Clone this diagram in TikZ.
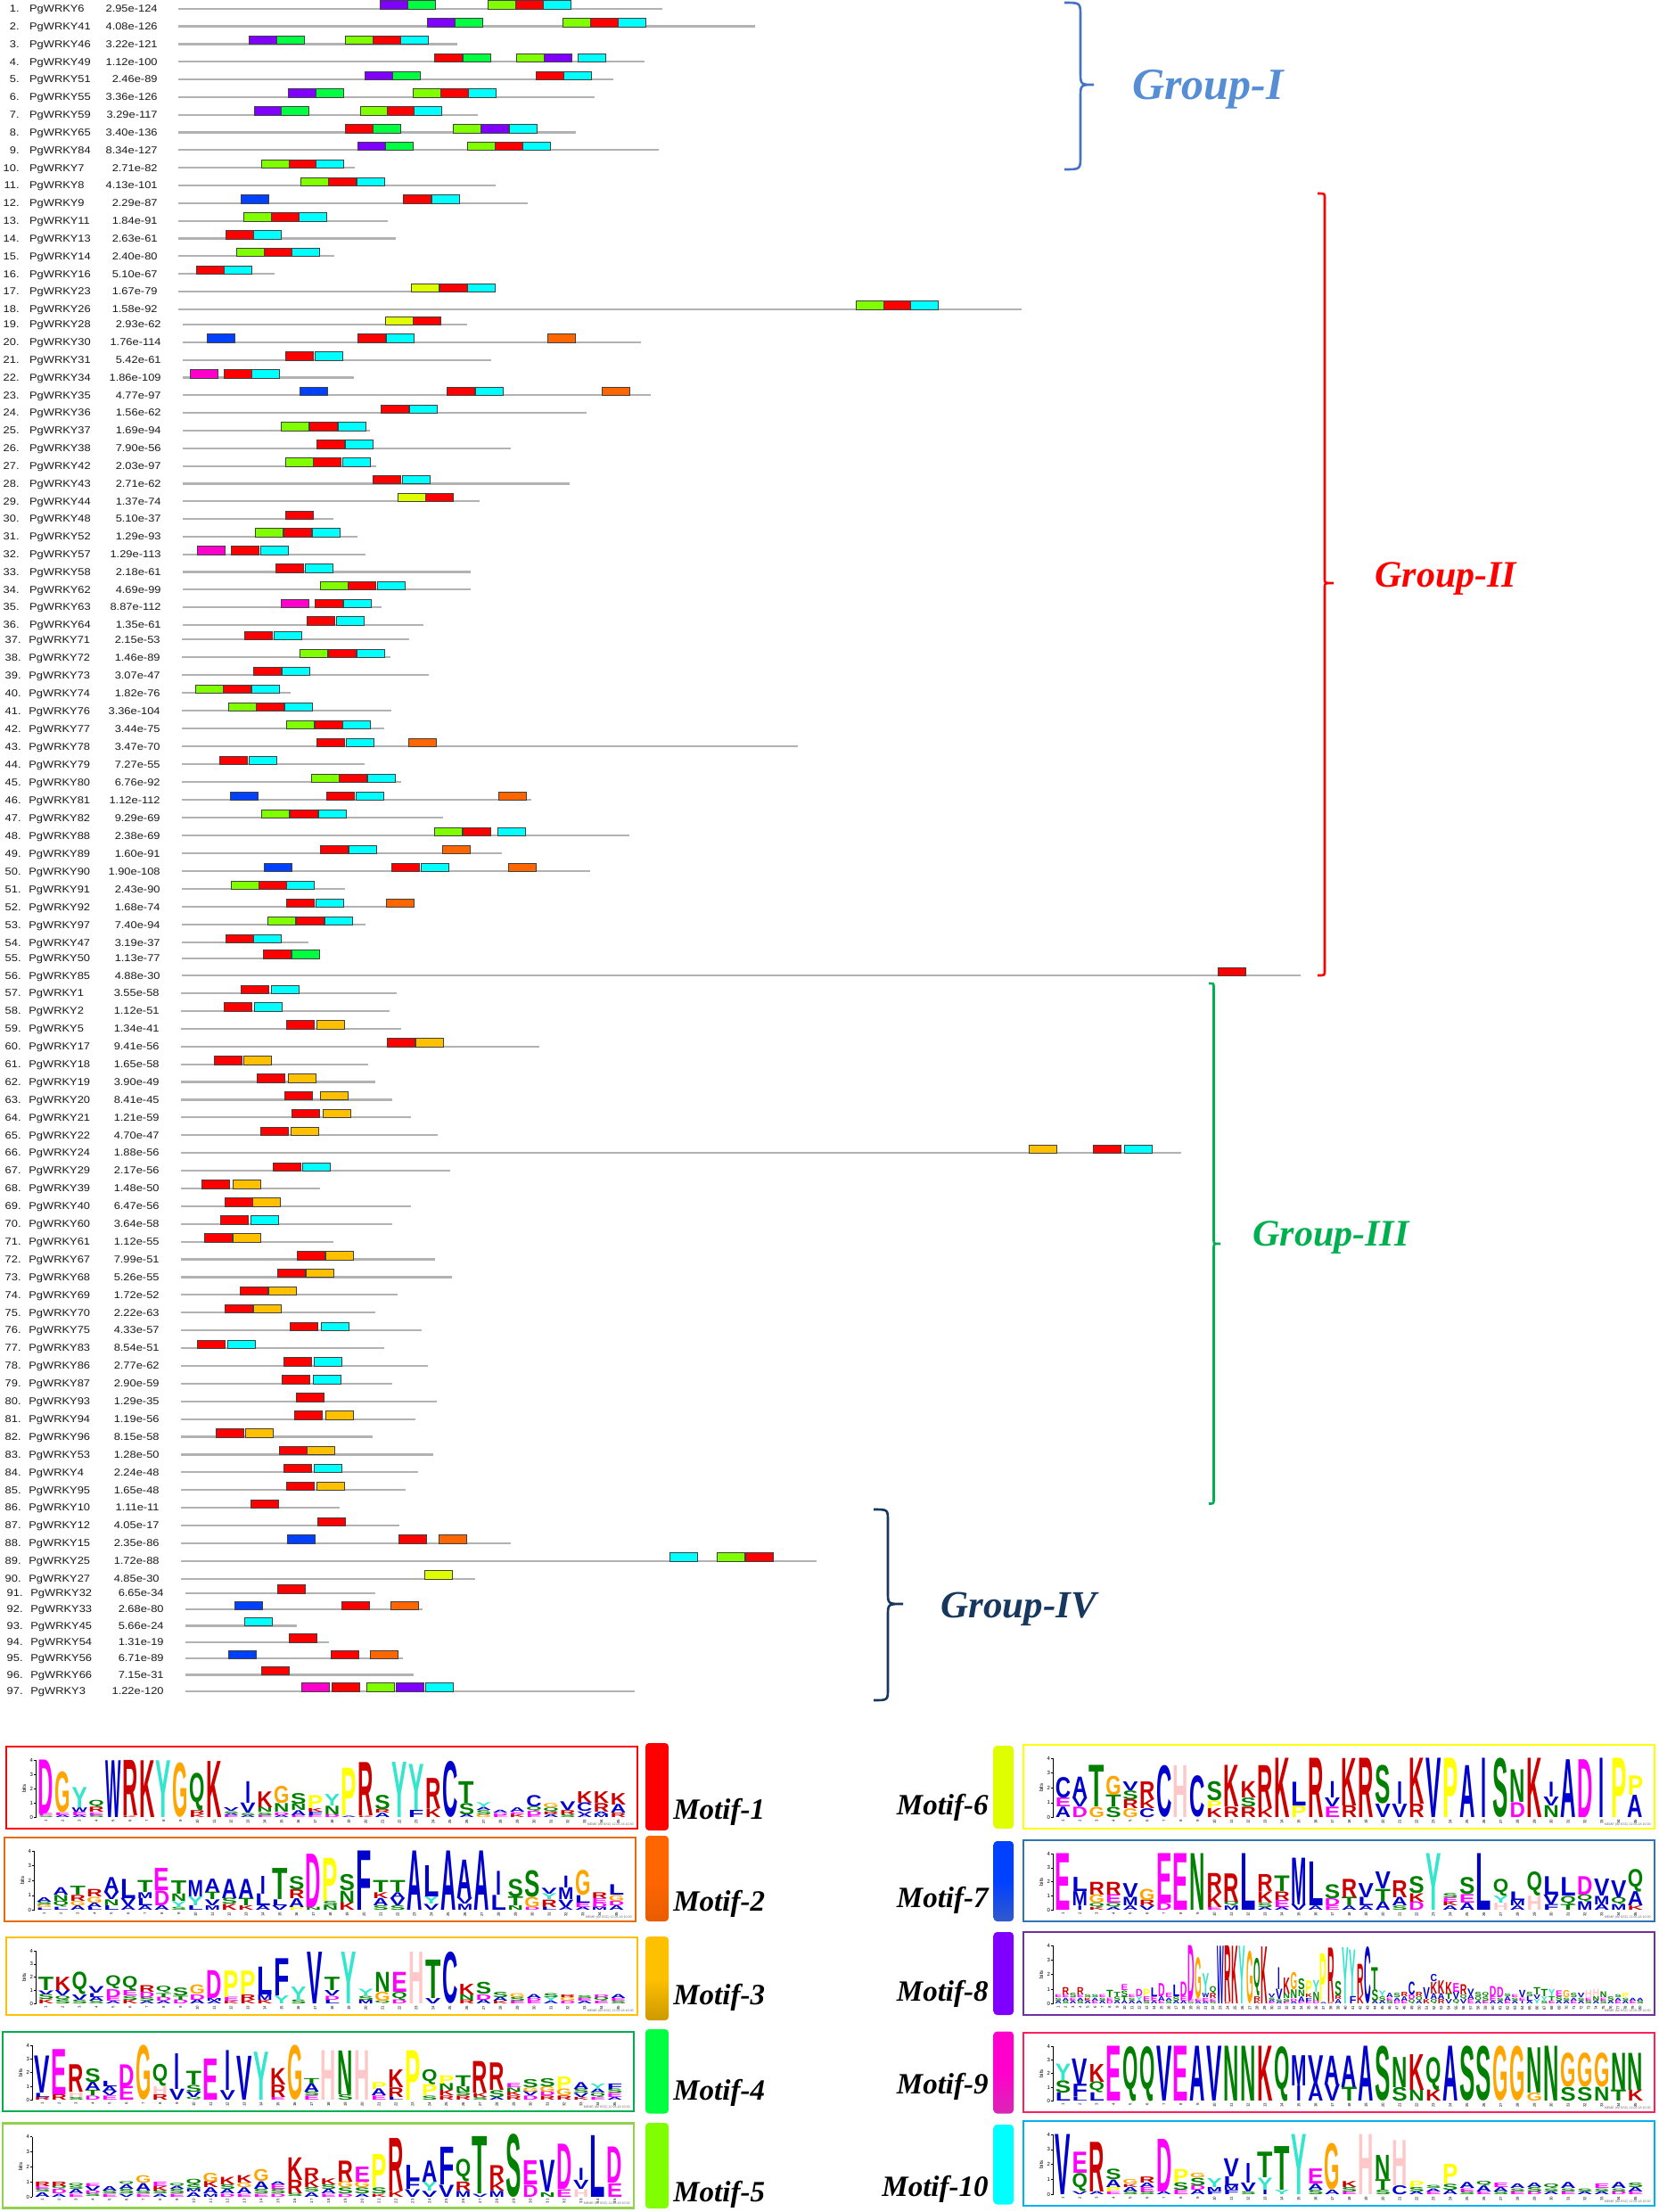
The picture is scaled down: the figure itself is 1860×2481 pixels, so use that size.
\documentclass[tikz,border=0pt]{standalone}
\usepackage{graphicx}
\usepackage{fontspec}
\setmainfont{Liberation Sans}
\newfontfamily\tnr{Liberation Serif}
\newfontfamily\lgf{Liberation Sans}
\newlength\upx \setlength\upx{0.5pt}
% chart motif colours
\definecolor{m1}{HTML}{FF0000}\definecolor{m2}{HTML}{FF6600}\definecolor{m3}{HTML}{FFC000}
\definecolor{m4}{HTML}{00FF40}\definecolor{m5}{HTML}{80FF00}\definecolor{m6}{HTML}{DFFF00}
\definecolor{m7}{HTML}{0040FF}\definecolor{m8}{HTML}{8000FF}\definecolor{m9}{HTML}{FF00CC}
\definecolor{m10}{HTML}{00FFFF}
% frame colours
\definecolor{f1}{HTML}{FF0000}\definecolor{f2}{HTML}{E46C0A}\definecolor{f3}{HTML}{FFC000}
\definecolor{f4}{HTML}{00B050}\definecolor{f5}{HTML}{92D050}\definecolor{f6}{HTML}{FFFF00}
\definecolor{f7}{HTML}{2E75B6}\definecolor{f8}{HTML}{7030A0}\definecolor{f9}{HTML}{FF1F5A}
\definecolor{f10}{HTML}{00B0F0}
% group colours
\definecolor{g1}{HTML}{4472C4}\definecolor{g1t}{HTML}{558ED5}
\definecolor{g2}{HTML}{FF0000}\definecolor{g3}{HTML}{00B050}\definecolor{g4}{HTML}{17375E}
% logo letter colours
\definecolor{lblue}{HTML}{0000CC}\definecolor{lgreen}{HTML}{008000}\definecolor{lmag}{HTML}{FF00FF}
\definecolor{lred}{HTML}{CC0000}\definecolor{lorange}{HTML}{FFA500}\definecolor{lyellow}{HTML}{FFFF00}
\definecolor{lturq}{HTML}{33E6CC}\definecolor{lpink}{HTML}{FFC8C8}
\colorlet{lcA}{lblue}\colorlet{lcC}{lblue}\colorlet{lcF}{lblue}\colorlet{lcI}{lblue}
\colorlet{lcL}{lblue}\colorlet{lcM}{lblue}\colorlet{lcV}{lblue}\colorlet{lcW}{lblue}
\colorlet{lcN}{lgreen}\colorlet{lcQ}{lgreen}\colorlet{lcS}{lgreen}\colorlet{lcT}{lgreen}
\colorlet{lcD}{lmag}\colorlet{lcE}{lmag}\colorlet{lcK}{lred}\colorlet{lcR}{lred}
\colorlet{lcG}{lorange}\colorlet{lcP}{lyellow}\colorlet{lcY}{lturq}\colorlet{lcH}{lpink}
\def\lgwA{0.92}\def\lgwC{0.92}\def\lgwD{0.92}\def\lgwE{0.92}\def\lgwF{0.92}\def\lgwG{0.92}
\def\lgwH{0.92}\def\lgwI{0.32}\def\lgwK{0.92}\def\lgwL{0.92}\def\lgwM{0.92}\def\lgwN{0.92}
\def\lgwP{0.92}\def\lgwQ{0.92}\def\lgwR{0.92}\def\lgwS{0.92}\def\lgwT{0.92}\def\lgwV{0.92}
\def\lgwW{0.92}\def\lgwY{0.92}
\newcommand\tinyf{\fontsize{3pt}{3.5pt}\selectfont}
\newcommand\tinyxf{\fontsize{2.2pt}{2.5pt}\selectfont}
\newcommand\footf{\fontsize{1.8pt}{2pt}\selectfont}
\tikzset{
  protline/.style={line width=1.1pt, draw=black!30},
  motbox/.style={draw=black!75, line width=0.45pt},
  rowtxt/.style={inner sep=0pt, font=\fontsize{5.6pt}{6.5pt}\selectfont, text=black!90},
  grplab/.style={inner sep=0pt, font=\tnr\bfseries\itshape\fontsize{21pt}{25pt}\selectfont},
  motlab/.style={inner sep=0pt, font=\tnr\bfseries\itshape\fontsize{16.5pt}{20pt}\selectfont},
  brk/.style={line width=1.3pt}
}
\newcommand\wrow[6]{%
  \draw[protline] (\lx,#2) -- (#3,#2);
  \node[rowtxt, anchor=base east] (num#1) at (\numx,#2+3.8) {\scalebox{1.15}[1]{#1.}};
  \node[rowtxt, anchor=base west] (nm#1) at (\namex,#2+3.8) {\scalebox{1.15}[1]{#4}};
  \node[rowtxt, anchor=base east] (ev#1) at (\evx,#2+3.8) {\scalebox{1.15}[1]{#5}};
  \foreach \qx/\qc in {#6} {\filldraw[motbox, fill=\qc] (\qx,#2-9) rectangle ++(31,9.5);}
}
\newcommand\logo[7]{%
  \pgfmathsetmacro\lgcolw{661/#5}
  \pgfmathsetmacro\lgbase{#3+#4-12.5}
  \pgfmathsetmacro\lgbit{(#4-27.5)/4}
  \pgfmathsetmacro\lgax{#2+33}
  \draw[line width=1.3pt, #6] (#2,#3) rectangle ++(708,#4);
  \draw[line width=0.3pt] (\lgax,\lgbase) -- (\lgax,\lgbase-4*\lgbit);
  \foreach \t in {0,...,4} {\draw[line width=0.3pt] (\lgax,\lgbase-\t*\lgbit) -- ++(-2,0) node[left, inner sep=0.4pt, font=\tinyf] (tk#1-\t) {\t};}
  \node[rotate=90, font=\tinyf, inner sep=0pt] (bits#1) at (#2+20,\lgbase-2*\lgbit) {bits};
  \foreach \ci in {1,...,#5} {\node[rotate=90, anchor=east, inner sep=0.3pt, font=\tinyxf] (xt#1-\ci) at ({#2+35+(\ci-0.5)*\lgcolw},\lgbase+1.5) {\ci};}
  \node[anchor=south east, font=\footf, text=black!60, inner sep=0.5pt] (ft#1) at (#2+705,#3+#4-1.5) {MEME (no SSC) 12.05.18 10:30};
  \foreach \col [count=\ci] in {#7} {%
    \pgfmathsetmacro\cx{#2+35+(\ci-0.5)*\lgcolw}
    \xdef\ycur{\lgbase}
    \foreach \lgL/\lgH [count=\li] in \col {%
      \pgfmathsetmacro\hpx{\lgH*\lgbit}
      \pgfmathsetmacro\lgww{\lgcolw*\csname lgw\lgL\endcsname}
      \node[anchor=south, inner sep=0pt, outer sep=0pt, text=lc\lgL] (lg#1-\ci-\li) at (\cx,\ycur) {\resizebox*{\lgww\upx}{\hpx\upx}{\lgf\bfseries\lgL}};
      \pgfmathsetmacro\ynew{\ycur-\hpx}
      \xdef\ycur{\ynew}
    }
  }
}
\newcommand\mbar[7]{\shade[top color=#6, bottom color=#7, middle color=#6, rounded corners=2pt] (#2,#3) rectangle ++(#4,#5);}
\begin{document}
\begin{tikzpicture}[x=0.5pt,y=-0.5pt]
\useasboundingbox (0,0) rectangle (1860,2481);
\fill[white] (0,0) rectangle (1860,2481);
% ---------------- rows 1-18
\def\numx{22}\def\namex{32.7}\def\evx{177}\def\lx{200}
\wrow{1}{9.7}{743}{PgWRKY6}{2.95e-124}{426/m8,457/m4,547/m5,578/m1,609/m10}
\wrow{2}{29.5}{847}{PgWRKY41}{4.08e-126}{479/m8,510/m4,631/m5,662/m1,693/m10}
\wrow{3}{49.4}{513}{PgWRKY46}{3.22e-121}{279/m8,310/m4,387/m5,418/m1,449/m10}
\wrow{4}{69.2}{723}{PgWRKY49}{1.12e-100}{487/m1,519/m4,579/m5,610/m8,648/m10}
\wrow{5}{89.0}{688}{PgWRKY51}{2.46e-89}{409/m8,440/m4,601/m1,632/m10}
\wrow{6}{108.9}{667}{PgWRKY55}{3.36e-126}{323/m8,354/m4,463/m5,494/m1,525/m10}
\wrow{7}{128.7}{536}{PgWRKY59}{3.29e-117}{285/m8,315/m4,404/m5,434/m1,464/m10}
\wrow{8}{148.5}{646}{PgWRKY65}{3.40e-136}{387/m1,418/m4,508/m5,539/m8,571/m10}
\wrow{9}{168.3}{739}{PgWRKY84}{8.34e-127}{401/m8,432/m4,524/m5,555/m1,586/m10}
\wrow{10}{188.2}{398}{PgWRKY7}{2.71e-82}{293/m5,324/m1,354/m10}
\wrow{11}{208.0}{556}{PgWRKY8}{4.13e-101}{337/m5,368/m1,400/m10}
\wrow{12}{227.8}{592}{PgWRKY9}{2.29e-87}{270/m7,452/m1,484/m10}
\wrow{13}{247.7}{435}{PgWRKY11}{1.84e-91}{273/m5,304/m1,335/m10}
\wrow{14}{267.5}{444}{PgWRKY13}{2.63e-61}{253/m1,284/m10}
\wrow{15}{287.3}{375}{PgWRKY14}{2.40e-80}{265/m5,296/m1,327/m10}
\wrow{16}{307.2}{308}{PgWRKY16}{5.10e-67}{220/m1,251/m10}
\wrow{17}{327.0}{556}{PgWRKY23}{1.67e-79}{461/m6,493/m1,524/m10}
\wrow{18}{346.7}{1146}{PgWRKY26}{1.58e-92}{960/m5,991/m1,1021/m10}
% ---------------- rows 19-36
\def\numx{22}\def\namex{32.7}\def\evx{181}\def\lx{205}
\wrow{19}{364.0}{524}{PgWRKY28}{2.93e-62}{432/m6,463/m1}
\wrow{20}{383.8}{719}{PgWRKY30}{1.76e-114}{232/m7,401/m1,433/m10,614/m2}
\wrow{21}{403.6}{551}{PgWRKY31}{5.42e-61}{320/m1,353/m10}
\wrow{22}{423.5}{397}{PgWRKY34}{1.86e-109}{213/m9,251/m1,282/m10}
\wrow{23}{443.3}{730}{PgWRKY35}{4.77e-97}{336/m7,501/m1,533/m10,675/m2}
\wrow{24}{463.1}{658}{PgWRKY36}{1.56e-62}{427/m1,459/m10}
\wrow{25}{482.9}{415}{PgWRKY37}{1.69e-94}{315/m5,347/m1,379/m10}
\wrow{26}{502.7}{573}{PgWRKY38}{7.90e-56}{355/m1,387/m10}
\wrow{27}{522.6}{422}{PgWRKY42}{2.03e-97}{320/m5,351/m1,384/m10}
\wrow{28}{542.4}{639}{PgWRKY43}{2.71e-62}{418/m1,451/m10}
\wrow{29}{562.2}{538}{PgWRKY44}{1.37e-74}{446/m6,477/m1}
\wrow{30}{582.0}{374}{PgWRKY48}{5.10e-37}{320/m1}
\wrow{31}{601.8}{401}{PgWRKY52}{1.29e-93}{286/m5,318/m1,350/m10}
\wrow{32}{621.7}{410}{PgWRKY57}{1.29e-113}{221/m9,259/m1,292/m10}
\wrow{33}{641.5}{528}{PgWRKY58}{2.18e-61}{309/m1,342/m10}
\wrow{34}{661.3}{528}{PgWRKY62}{4.69e-99}{359/m5,390/m1,423/m10}
\wrow{35}{681.1}{428}{PgWRKY63}{8.87e-112}{315/m9,353/m1,385/m10}
\wrow{36}{700.9}{475}{PgWRKY64}{1.35e-61}{344/m1,377/m10}
% ---------------- rows 37-56
\def\numx{24}\def\namex{32}\def\evx{180}\def\lx{203.5}
\wrow{37}{717.3}{459}{PgWRKY71}{2.15e-53}{274/m1,307/m10}
\wrow{38}{737.3}{438}{PgWRKY72}{1.46e-89}{336/m5,368/m1,400/m10}
\wrow{39}{757.3}{481}{PgWRKY73}{3.07e-47}{284/m1,316/m10}
\wrow{40}{777.3}{326}{PgWRKY74}{1.82e-76}{219/m5,250/m1,282/m10}
\wrow{41}{797.3}{439}{PgWRKY76}{3.36e-104}{256/m5,287/m1,319/m10}
\wrow{42}{817.3}{431}{PgWRKY77}{3.44e-75}{321/m5,353/m1,384/m10}
\wrow{43}{837.3}{895}{PgWRKY78}{3.47e-70}{355/m1,388/m10,458/m2}
\wrow{44}{857.3}{409}{PgWRKY79}{7.27e-55}{246/m1,279/m10}
\wrow{45}{877.3}{450}{PgWRKY80}{6.76e-92}{349/m5,380/m1,412/m10}
\wrow{46}{897.3}{596}{PgWRKY81}{1.12e-112}{258/m7,366/m1,399/m10,559/m2}
\wrow{47}{917.3}{497}{PgWRKY82}{9.29e-69}{293/m5,325/m1,357/m10}
\wrow{48}{937.3}{706}{PgWRKY88}{2.38e-69}{487/m5,519/m1,558/m10}
\wrow{49}{957.3}{563}{PgWRKY89}{1.60e-91}{359/m1,391/m10,496/m2}
\wrow{50}{977.3}{662}{PgWRKY90}{1.90e-108}{296/m7,439/m1,472/m10,570/m2}
\wrow{51}{997.3}{387}{PgWRKY91}{2.43e-90}{259/m5,290/m1,321/m10}
\wrow{52}{1017.3}{464}{PgWRKY92}{1.68e-74}{321/m1,354/m10,433/m2}
\wrow{53}{1037.3}{410}{PgWRKY97}{7.40e-94}{300/m5,332/m1,364/m10}
\wrow{54}{1057.3}{346}{PgWRKY47}{3.19e-37}{253/m1,284/m10}
\wrow{55}{1074.7}{358}{PgWRKY50}{1.13e-77}{295/m1,327/m4}
\wrow{56}{1094.3}{1459}{PgWRKY85}{4.88e-30}{1366/m1}
% ---------------- rows 57-90
\def\numx{24}\def\namex{32}\def\evx{179}\def\lx{202.5}
\wrow{57}{1114.0}{445}{PgWRKY1}{3.55e-58}{270/m1,304/m10}
\wrow{58}{1133.9}{437}{PgWRKY2}{1.12e-51}{251/m1,285/m10}
\wrow{59}{1153.8}{450}{PgWRKY5}{1.34e-41}{321/m1,355/m3}
\wrow{60}{1173.7}{605}{PgWRKY17}{9.41e-56}{434/m1,466/m3}
\wrow{61}{1193.6}{413}{PgWRKY18}{1.65e-58}{240/m1,273/m3}
\wrow{62}{1213.5}{421}{PgWRKY19}{3.90e-49}{288/m1,323/m3}
\wrow{63}{1233.4}{440}{PgWRKY20}{8.41e-45}{319/m1,359/m3}
\wrow{64}{1253.3}{461}{PgWRKY21}{1.21e-59}{327/m1,362/m3}
\wrow{65}{1273.2}{491}{PgWRKY22}{4.70e-47}{292/m1,326/m3}
\wrow{66}{1293.1}{1325}{PgWRKY24}{1.88e-56}{1154/m3,1226/m1,1261/m10}
\wrow{67}{1313.0}{505}{PgWRKY29}{2.17e-56}{306/m1,339/m10}
\wrow{68}{1332.9}{359}{PgWRKY39}{1.48e-50}{226/m1,261/m3}
\wrow{69}{1352.8}{461}{PgWRKY40}{6.47e-56}{252/m1,283/m3}
\wrow{70}{1372.7}{440}{PgWRKY60}{3.64e-58}{247/m1,281/m10}
\wrow{71}{1392.6}{374}{PgWRKY61}{1.12e-55}{229/m1,261/m3}
\wrow{72}{1412.5}{488}{PgWRKY67}{7.99e-51}{333/m1,365/m3}
\wrow{73}{1432.4}{507}{PgWRKY68}{5.26e-55}{311/m1,343/m3}
\wrow{74}{1452.3}{446}{PgWRKY69}{1.72e-52}{269/m1,301/m3}
\wrow{75}{1472.2}{421}{PgWRKY70}{2.22e-63}{252/m1,284/m3}
\wrow{76}{1492.1}{473}{PgWRKY75}{4.33e-57}{325/m1,360/m10}
\wrow{77}{1512.0}{431}{PgWRKY83}{8.54e-51}{221/m1,255/m10}
\wrow{78}{1531.9}{480}{PgWRKY86}{2.77e-62}{318/m1,352/m10}
\wrow{79}{1551.8}{440}{PgWRKY87}{2.90e-59}{316/m1,351/m10}
\wrow{80}{1571.7}{490}{PgWRKY93}{1.29e-35}{332/m1}
\wrow{81}{1591.6}{466}{PgWRKY94}{1.19e-56}{330/m1,365/m3}
\wrow{82}{1611.5}{418}{PgWRKY96}{8.15e-58}{242/m1,275/m3}
\wrow{83}{1631.4}{486}{PgWRKY53}{1.28e-50}{313/m1,344/m3}
\wrow{84}{1651.3}{469}{PgWRKY4}{2.24e-48}{318/m1,352/m10}
\wrow{85}{1671.2}{455}{PgWRKY95}{1.65e-48}{321/m1,355/m3}
\wrow{86}{1691.1}{381}{PgWRKY10}{1.11e-11}{281/m1}
\wrow{87}{1711.0}{448}{PgWRKY12}{4.05e-17}{356/m1}
\wrow{88}{1730.9}{573}{PgWRKY15}{2.35e-86}{322/m7,447/m1,492/m2}
\wrow{89}{1750.8}{916}{PgWRKY25}{1.72e-88}{751/m10,804/m5,836/m1}
\wrow{90}{1770.7}{533}{PgWRKY27}{4.85e-30}{476/m6}
% ---------------- rows 91-97
\def\numx{26}\def\namex{34}\def\evx{184}\def\lx{208}
\wrow{91}{1786.7}{421}{PgWRKY32}{6.65e-34}{311/m1}
\wrow{92}{1805.0}{474}{PgWRKY33}{2.68e-80}{263/m7,383/m1,438/m2}
\wrow{93}{1823.4}{333}{PgWRKY45}{5.66e-24}{274/m10}
\wrow{94}{1841.7}{369}{PgWRKY54}{1.31e-19}{324/m1}
\wrow{95}{1860.0}{452}{PgWRKY56}{6.71e-89}{256/m7,371/m1,415/m2}
\wrow{96}{1878.4}{464}{PgWRKY66}{7.15e-31}{293/m1}
\wrow{97}{1896.7}{712}{PgWRKY3}{1.22e-120}{338/m9,372/m1,411/m5,444/m8,477/m10}
% ---------------- group brackets
\draw[brk, g1] (1194,3) .. controls (1212,3) and (1212,3) .. (1212,18) -- (1212,80) .. controls (1212,95) and (1212,95) .. (1227,95) .. controls (1212,95) and (1212,95) .. (1212,110) -- (1212,175) .. controls (1212,190) and (1212,190) .. (1194,190);
\node[grplab, text=g1t, anchor=west, font=\tnr\bfseries\itshape\fontsize{25pt}{29pt}\selectfont] (gI) at (1270,100) {Group-I};
\draw[brk, g2] (1478,217) .. controls (1486,217) and (1486,217) .. (1486,222) -- (1486,650) .. controls (1486,654) and (1486,654) .. (1496,654) .. controls (1486,654) and (1486,654) .. (1486,658) -- (1486,1089) .. controls (1486,1094) and (1486,1094) .. (1478,1094);
\node[grplab, text=g2, anchor=west] (gII) at (1542,649) {Group-II};
\draw[brk, g3] (1356,1103) .. controls (1361.5,1103) and (1361.5,1103) .. (1361.5,1107) -- (1361.5,1391) .. controls (1361.5,1395) and (1361.5,1395) .. (1369,1395) .. controls (1361.5,1395) and (1361.5,1395) .. (1361.5,1399) -- (1361.5,1682) .. controls (1361.5,1686.5) and (1361.5,1686.5) .. (1356,1686.5);
\node[grplab, text=g3, anchor=west] (gIII) at (1405,1388) {Group-III};
\draw[brk, g4] (980,1693) .. controls (996,1693) and (996,1693) .. (996,1706) -- (996,1786) .. controls (996,1799) and (996,1799) .. (1013,1799) .. controls (996,1799) and (996,1799) .. (996,1812) -- (996,1894) .. controls (996,1907) and (996,1907) .. (980,1907);
\node[grplab, text=g4, anchor=west, font=\tnr\bfseries\itshape\fontsize{21.5pt}{25pt}\selectfont] (gIV) at (1055,1805) {Group-IV};
% ---------------- colour bars
\mbar{b1}{724}{1955}{26}{98}{m1}{m1}
\mbar{b2}{724}{2059}{26}{96}{m2}{m2!85!black!60!m2}
\mbar{b3}{724}{2172}{26}{94}{m3}{m3!80!black}
\mbar{b4}{724}{2276}{26}{94.5}{m4}{m4}
\mbar{b5}{724}{2381}{26}{96}{m5}{m5}
\mbar{b6}{1114.5}{1958}{22.5}{93}{m6}{m6}
\mbar{b7}{1114.5}{2065}{22.5}{90}{m7}{m7!60!gray}
\mbar{b8}{1114.5}{2167}{22.5}{93}{m8}{m8}
\mbar{b9}{1114.5}{2278.5}{22.5}{92}{m9}{m9!70!gray}
\mbar{b10}{1114.5}{2383}{22.5}{89.5}{m10}{m10}
% ---------------- motif labels
\node[motlab, anchor=west] (ml1) at (755,2032) {Motif-1};
\node[motlab, anchor=west] (ml2) at (755,2135) {Motif-2};
\node[motlab, anchor=west] (ml3) at (755,2240) {Motif-3};
\node[motlab, anchor=west] (ml4) at (755,2347) {Motif-4};
\node[motlab, anchor=west] (ml5) at (755,2461) {Motif-5};
\node[motlab, anchor=east] (ml6) at (1109,2027) {Motif-6};
\node[motlab, anchor=east] (ml7) at (1109,2131) {Motif-7};
\node[motlab, anchor=east] (ml8) at (1109,2236) {Motif-8};
\node[motlab, anchor=east] (ml9) at (1109,2340) {Motif-9};
\node[motlab, anchor=east] (ml10) at (1109,2455) {Motif-10};
% ---------------- logos
\logo{1}{7}{1959}{92}{35}{f1}{{S/.1,E/.15,D/3.75},{A/.15,E/.2,G/2.85},{A/.15,E/.25,W/.3,Y/1.4},{S/.15,E/.2,R/.35,Q/.5},{W/3.95},{K/.1,R/3.85},{K/3.95},{Y/3.95},{G/3.8},{K/.2,R/.3,Q/2.6},{K/3.9},{E/.12,A/.15,S/.15,V/.25},{A/.15,S/.15,V/.7,I/1.5},{E/.15,S/.2,N/.35,K/1.1},{A/.15,D/.2,N/.6,G/1.2},{E/.15,A/.35,N/.45,S/.75},{E/.15,F/.25,K/.25,P/.9},{D/.2,N/.6,Y/.8},{A/.1,P/3.3},{K/.1,R/3.7},{A/.3,R/.25,S/1},{Y/3.85},{F/.5,Y/3.2},{K/.6,R/2.1},{C/3.9},{A/.2,S/.8,T/1.5},{G/.2,S/.3,A/.2,Y/.35},{E/.15,D/.15,A/.2},{K/.2,E/.15,A/.3},{E/.15,D/.3,Q/.3,C/.8},{A/.2,R/.2,Q/.3,G/.3},{S/.2,R/.3,V/.6},{A/.2,V/.2,C/.6,K/.8},{M/.2,A/.2,R/.6,K/.8},{R/.3,A/.6,K/.8}}
\logo{2}{5}{2061}{94}{35}{f2}{{L/.15,G/.2,S/.2,A/.3},{L/.2,Q/.4,N/.4,A/.5},{A/.3,G/.3,R/.4,T/.6},{L/.2,A/.3,G/.4,R/.5},{L/.3,N/.4,V/.5,A/1},{A/.3,V/.5,L/1.3},{A/.3,L/.5,M/.4,T/.8},{A/.3,D/1.0,E/1.5},{S/.2,Y/.4,N/.5,T/.9},{L/.3,Y/.6,M/1.1},{M/.3,V/.4,T/.5,A/.9},{K/.4,S/.4,A/1.3},{K/.3,T/.5,A/1.3},{A/.3,L/.8,I/1.2},{V/.3,L/.4,T/2.1},{P/.2,A/.6,R/.6,S/.9},{N/.2,D/3.6},{N/.3,S/.3,P/2.9},{K/.5,N/.8,S/1.1},{F/4},{S/.3,A/.5,K/.4,T/.8},{S/.3,V/.5,A/.4,T/.8},{A/4},{V/.4,Y/.5,L/2.1},{A/4},{M/.4,V/.4,A/2.6},{A/4},{L/1,I/1.6},{N/.3,T/.6,S/1.2},{D/.2,G/.7,S/1.8},{L/.2,R/.5,Y/.4,V/.4},{A/.2,V/.5,M/.8,I/.8},{A/.2,E/.3,L/.5,G/1.7},{M/.2,D/.3,E/.3,R/.4},{A/.3,D/.3,G/.4,L/.7}}
\logo{3}{7}{2173}{87}{35}{f3}{{K/.3,S/.4,V/.3,T/1.0},{S/.3,Q/.3,V/.4,K/1.0},{S/.3,V/.4,Q/1.7},{S/.2,A/.3,L/.3,V/.5},{A/.2,E/.3,D/.6,Q/1.0},{K/.3,S/.3,E/.4,Q/1.1},{A/.2,S/.3,D/.4,R/.5},{A/.2,D/.3,T/.3,Q/.5},{D/.3,T/.3,S/.6},{A/.3,D/.4,G/.7},{A/.2,M/.2,D/2.1},{K/.2,E/.3,P/2.0},{K/.3,R/.4,P/1.8},{K/.3,M/.4,L/2.1},{Y/.6,F/2.8},{S/.3,Y/1.0},{V/3.9},{L/.3,D/.3,V/.4,T/1.0},{Y/3.9},{M/.3,S/.3,Y/.5},{Q/.2,G/.7,N/1.5},{D/.3,Q/.6,E/1.5},{H/3.9},{V/.4,T/2.9},{C/3.9},{R/.3,N/.4,K/.8},{A/.3,D/.4,S/.9},{K/.2,A/.3,S/.4},{E/.2,S/.3,G/.3},{E/.2,D/.2,A/.3},{A/.2,Y/.3,S/.3},{D/.2,G/.3,R/.2},{A/.2,E/.2,S/.2},{E/.2,Q/.3,D/.2},{S/.2,E/.2,A/.3}}
\logo{4}{3}{2279}{89}{35}{f4}{{R/.2,L/.3,V/2.7},{R/.4,E/3.3},{S/.2,H/.4,R/2.0},{D/.3,T/.4,A/.6,S/1.0},{E/.3,V/.3,A/.4,L/.4},{E/1.0,D/1.6},{G/4},{R/.4,H/.6,Q/1.6},{V/.8,I/2.6},{Q/.2,V/.4,S/.5,T/1.0},{E/3.0},{V/.7,I/2.9},{V/3.2},{Y/3.5},{E/.2,R/.9,K/1.2},{G/4},{E/.3,S/.3,A/.6,T/.4},{H/3.6},{S/.4,N/3.2},{H/3.6},{E/.3,A/.5,P/.5},{L/.2,R/.7,K/1.3},{P/3.6},{S/.3,P/.8,Q/1.1},{R/.3,K/.4,N/.5,P/.6},{R/.3,S/.3,N/.4,T/.8},{S/.2,K/.3,R/2.3},{A/.2,S/.5,R/2},{R/.3,K/.3,N/.3,E/.3},{D/.3,V/.3,G/.3,S/.6},{R/.3,D/.3,G/.4,S/.6},{R/.3,G/.5,P/.9},{K/.2,V/.3,S/.3,A/.5},{E/.2,Q/.3,A/.3,Y/.4},{A/.2,E/.3,S/.3,F/.4}}
\logo{5}{3}{2381.5}{95}{35}{f5}{{A/.3,S/.2,E/.2,R/.3},{A/.2,D/.3,Q/.2,R/.3},{E/.2,A/.3,S/.2,Q/.2},{S/.2,D/.2,V/.3,E/.2},{E/.2,S/.2,A/.3},{V/.2,S/.3,A/.3,Q/.2},{E/.2,S/.2,A/.5,G/.5},{A/.2,S/.2,K/.3,E/.3},{E/.2,S/.3,A/.2,Q/.2},{A/.3,M/.2,S/.3,Q/.4},{M/.2,A/.4,K/.4,G/.6},{D/.2,A/.3,S/.3,K/.5},{E/.2,A/.4,G/.3,K/.5},{E/.2,S/.3,A/.5,G/.8},{D/.2,S/.3,E/.3,A/.2},{S/.2,R/.9,K/1.5},{A/.3,S/.3,K/.5,R/.8},{E/.2,A/.3,S/.3,K/.4},{D/.2,S/.4,G/.4,R/1.4},{A/.2,S/.4,G/.4,E/1.0},{K/.2,S/.4,P/2.2},{K/.4,R/3.5},{V/.5,F/.6,L/1.0},{V/.4,Y/.6,A/1.4},{V/.8,F/2.5},{M/.4,R/.6,Q/1.5},{V/.2,T/3.8},{M/.4,K/.6,R/1.1},{S/4.2},{D/.8,E/1.6},{N/.3,V/2.1},{E/.5,D/3},{H/.5,V/.6,I/.8},{L/4.1},{E/.9,D/2.4}}
\logo{6}{1148}{1957}{94}{35}{f6}{{A/.7,E/.6,C/1.4},{D/.7,V/.6,A/1.4},{G/.7,T/2.8},{S/.7,T/.8,G/1.3},{G/.6,R/.6,S/.6,V/.6},{C/.6,K/.6,R/1.2},{C/3.5},{H/3.5},{C/2.8},{K/.6,P/.5,S/1.3},{R/.7,K/2.8},{R/.7,S/.6,K/1.1},{K/.6,R/2.9},{K/4.0},{P/.8,L/1.6},{R/4.0},{E/.7,V/.6,I/1.1},{R/.8,K/3.2},{R/4.0},{V/.9,S/2.6},{V/.9,I/1.5},{R/.9,K/3.1},{V/4},{P/4},{A/3.5},{I/4},{S/4},{D/1,N/2.2},{K/4},{N/.8,V/.6,I/1},{A/3.9},{D/3.9},{I/4},{P/4},{A/1.5,P/1.3}}
\logo{7}{1148}{2064}{91}{35}{f7}{{E/4},{I/.3,M/1.0,L/1.0},{K/.2,Q/.3,G/.6,R/.9},{A/.2,Q/.3,E/.6,R/.9},{A/.3,M/.6,V/1.0},{V/.3,R/.4,G/.8},{D/.5,E/3.5},{E/4},{N/4},{E/.2,K/1,R/1.4},{M/.3,Q/.3,R/2.0},{L/4},{A/.2,S/.3,K/.8,R/1.2},{A/.2,E/.5,R/.6,T/1.1},{V/.4,M/3.3},{A/.3,L/3.1},{E/.3,D/.5,S/1.0},{A/.3,T/.6,R/1.3},{A/.3,L/.6,V/1.0},{A/.6,T/.9,V/1.2},{S/.3,A/.6,R/1.2},{D/.6,K/.6,S/1.2},{Y/4},{A/.3,K/.3,E/.3,S/.3},{A/.5,E/.6,S/1.2},{L/4},{H/.5,Y/.5,Q/1.2},{A/.3,M/.4,L/.6},{H/1.0,Q/1.7},{F/.4,V/.7,L/1.3},{T/.4,Q/.6,L/1.3},{M/.6,Q/.5,D/1.3},{A/.4,M/.6,V/1.2},{M/.4,Q/.5,V/1.2},{K/.3,A/1.0,Q/1.6}}
\logo{8}{1148}{2167}{93}{80}{f8}{{A/.2,S/.2,E/.2},{S/.2,A/.2,E/.2,R/.5},{A/.2,E/.2,S/.3},{S/.2,A/.2,E/.2,R/.5},{A/.2,K/.2,S/.2},{E/.2,A/.2,S/.2},{A/.2,S/.2,E/.2},{D/.2,E/.2,T/.5},{A/.2,S/.3,T/.3},{A/.2,T/.3,S/.4,E/.4},{A/.2,S/.2,E/.2},{A/.2,Y/.3,D/.5},{S/.2,E/.3,P/.5},{A/.2,E/.3,L/.6},{E/.2,A/.3,D/.9},{S/.2,A/.2,E/.3},{A/.2,S/.3,L/.8},{A/.2,E/.3,D/1.0},{S/.1,E/.15,D/3.75},{A/.15,E/.2,G/2.85},{A/.15,E/.25,W/.3,Y/1.4},{S/.15,E/.2,R/.35,Q/.5},{W/3.95},{K/.1,R/3.85},{K/3.95},{Y/3.95},{G/3.6},{K/.2,R/.3,Q/2.6},{K/3.9},{E/.12,A/.15,S/.15,V/.25},{A/.15,S/.15,V/.7,I/1.5},{E/.15,S/.2,N/.35,K/1.1},{A/.15,D/.2,N/.6,G/1.2},{E/.15,A/.35,N/.45,S/.75},{E/.15,F/.25,K/.25,P/.9},{D/.2,N/.6,Y/.8},{A/.1,P/3.3},{K/.1,R/3.7},{A/.3,R/.25,S/1},{Y/3.85},{F/.5,Y/3.2},{K/.6,R/2.1},{C/3.9},{A/.2,S/.8,T/1.5},{A/.2,S/.3,Y/.4},{S/.2,E/.2,A/.3},{D/.2,A/.2,S/.3},{E/.2,A/.3,R/.3},{Q/.3,D/.3,C/.9},{A/.2,Q/.3,R/.3},{K/.3,V/.8},{Q/.3,A/.4,K/.8,C/.5},{R/.3,A/.4,K/.9},{V/.3,T/.4,K/.8},{Q/.3,V/.5,E/.6},{V/.3,Q/.3,R/.7},{E/.3,A/.3,V/.4},{A/.2,Q/.3,S/.3},{E/.2,S/.3,Q/.3},{A/.2,E/.3,D/.7},{A/.2,S/.2,D/.7},{E/.2,A/.3,S/.2},{A/.2,S/.2,E/.2},{I/.2,E/.2,V/.5},{A/.2,L/.3,S/.3},{Y/.3,V/.3,T/.5},{S/.2,Y/.3,T/.5},{E/.2,T/.3,Y/.5},{A/.2,S/.3,E/.4},{A/.2,S/.2,G/.5},{E/.2,A/.2,S/.3},{A/.2,S/.2,V/.3},{S/.2,E/.2,H/.5},{A/.2,N/.3,H/.5},{S/.2,E/.2,N/.4},{A/.2,S/.3},{E/.2,A/.2,S/.2},{A/.2,S/.2,P/.3},{E/.2,A/.2},{S/.2,A/.2}}
\logo{9}{1148}{2280}{89}{35}{f9}{{L/.6,S/.9,Y/1.2},{L/.3,F/.9,V/1.9},{L/.6,Q/.8,K/1.3},{E/4},{Q/4},{Q/4},{V/4},{E/4},{A/4},{V/4},{N/4},{N/4},{K/4},{Q/4},{I/1.1,M/2.2},{A/1.3,V/2.0},{V/1.2,A/2.1},{T/1.0,A/2.3},{A/4},{S/4},{S/1.0,N/2.2},{N/.8,K/2.6},{K/.8,Q/2.4},{A/4},{S/4},{S/4},{G/4},{G/4},{G/.6,N/3.3},{N/4},{S/1,G/2.5},{S/1,G/2.5},{N/1,G/2.5},{T/.8,N/2.7},{K/.8,N/2.7}}
\logo{10}{1148}{2379}{95}{35}{f10}{{V/4},{V/.2,Q/1.2,E/1.4},{A/.2,R/3.3},{E/.2,P/.3,A/.5,S/.7},{S/.2,A/.3,K/.2,G/.3},{S/.2,E/.3,A/.3,R/.4},{A/.2,D/3.5},{E/.3,S/.5,P/.9},{A/.3,D/.3,S/.5,G/.3},{F/.2,M/.3,Y/.6},{F/.3,M/.3,L/.6,V/1.2},{S/.2,V/.6,I/1.3},{I/.3,Y/.8,T/1.7},{Y/.3,T/2.9},{Y/4},{S/.3,A/.4,E/1.0},{A/.3,G/3.1},{E/.2,S/.3,K/.4},{H/4},{S/.3,T/.7,N/1.6},{C/.6,H/3},{A/.2,S/.3,P/.4},{E/.2,A/.2,S/.2},{A/.3,S/.4,P/1.3},{S/.2,E/.2,A/.4},{E/.2,A/.4,Q/.3},{S/.2,A/.3,E/.3},{E/.2,S/.2,A/.3},{D/.2,S/.3,A/.3},{A/.2,S/.2,Q/.3},{E/.2,S/.2,A/.4},{A/.2,S/.2},{A/.2,S/.2,E/.3},{D/.2,S/.2,A/.4},{E/.2,A/.3,S/.3}}
\end{tikzpicture}
\end{document}
